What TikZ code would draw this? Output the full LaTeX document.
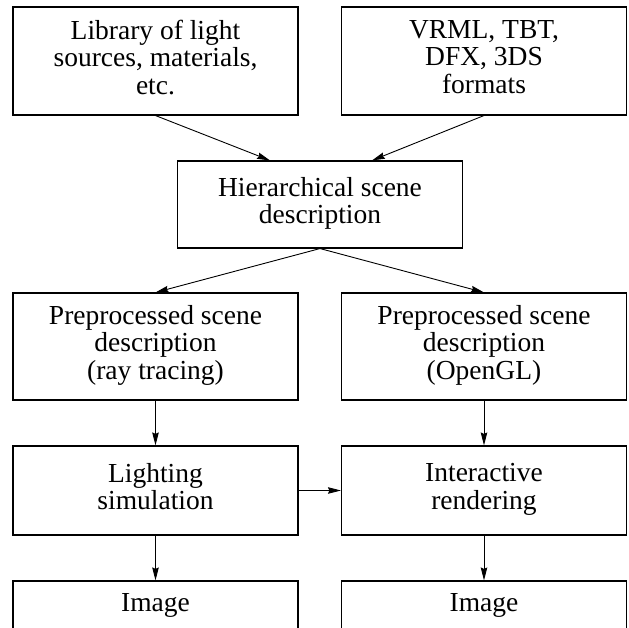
\documentclass[tikz,border=0pt]{standalone}
\usepackage{fontspec}
\setmainfont{Liberation Serif}
\usetikzlibrary{arrows.meta}
\tikzset{
  box/.style={draw, line width=1.1pt, minimum width=285pt, align=center,
    font=\fontsize{27.5}{27.5}\selectfont,
    execute at begin node=\strut, execute at end node=\strut},
  arr/.style={line width=0.9pt, -{Stealth[length=13pt,width=6.5pt,inset=1.5pt]}}
}
\begin{document}
\begin{tikzpicture}[x=1pt,y=-1pt]
\useasboundingbox (0,0) rectangle (629,628);
\clip (0,0) rectangle (629,628);
\node[box, minimum height=108pt] (lib) at (155.5,61) {Library of light\\sources, materials,\\etc.};
\node[box, minimum height=108pt] (fmt) at (484,61) {VRML, TBT,\\DFX, 3DS\\formats};
\node[box, minimum height=87pt] (hier) at (320,204.5) {Hierarchical scene\\description};
\node[box, minimum height=107pt] (pret) at (155.5,346.5) {Preprocessed scene\\description\\(ray tracing)};
\node[box, minimum height=107pt] (preo) at (484,346.5) {Preprocessed scene\\description\\(OpenGL)};
\node[box, minimum height=89pt] (light) at (155.5,490.5) {Lighting\\simulation};
\node[box, minimum height=89pt] (inter) at (484,490.5) {Interactive\\rendering};
\node[box, minimum height=50pt] (imgl) at (155.5,606) {Image};
\node[box, minimum height=50pt] (imgr) at (484,606) {Image};
\draw[arr] (lib.south) -- ([xshift=-50pt]hier.north);
\draw[arr] (fmt.south) -- ([xshift=52pt]hier.north);
\draw[arr] (hier.south) -- (pret.north);
\draw[arr] (hier.south) -- (preo.north);
\foreach \a/\b in {pret/light, preo/inter, light/imgl, inter/imgr}
  \draw[arr] (\a.south) -- (\b.north);
\draw[arr] (light.east) -- (inter.west);
\end{tikzpicture}
\end{document}
